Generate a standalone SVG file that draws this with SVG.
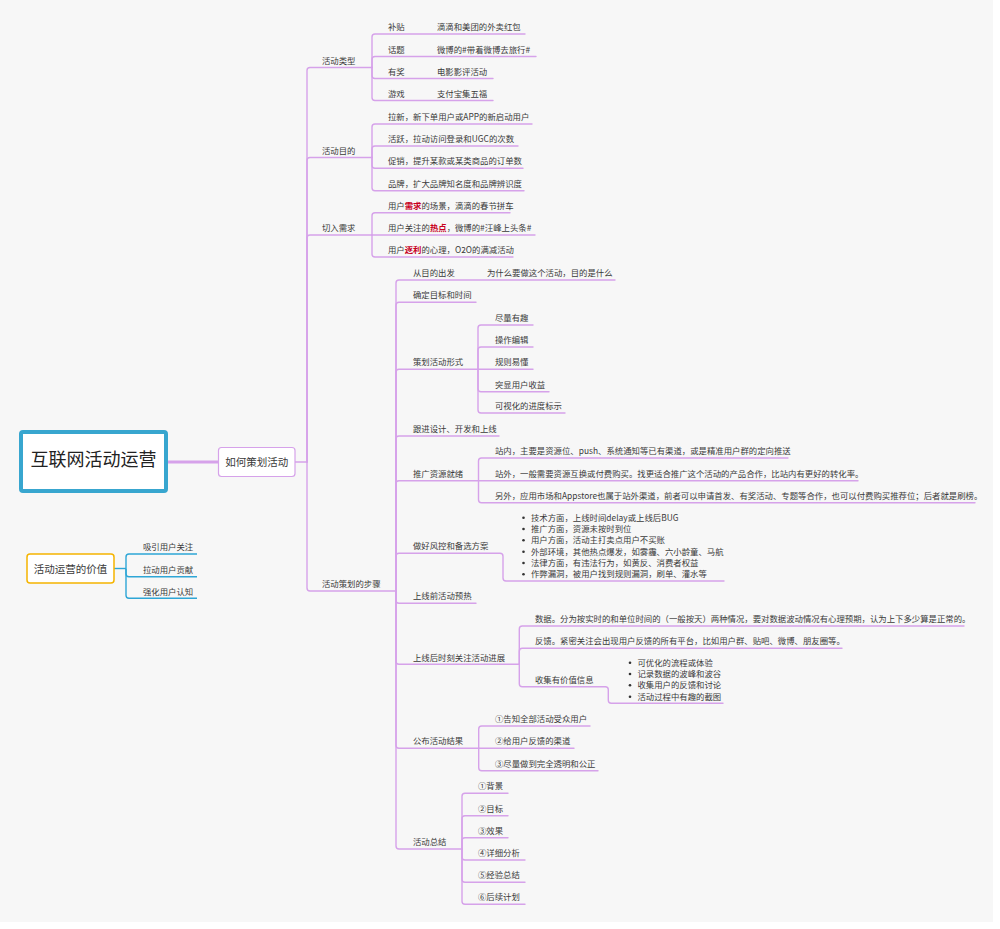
<svg xmlns="http://www.w3.org/2000/svg" width="1000" height="929" viewBox="0 0 1000 929">
<style>
.t{font-family:"Noto Sans CJK SC","Noto Sans",sans-serif;font-size:8.4px;fill:#3a3a3a}
.c{fill:none;stroke:#d6a2ea;stroke-width:1.4;stroke-linecap:round}
.cb{fill:none;stroke:#2ea6d6;stroke-width:1.4}
.hl{fill:#c8001e;font-weight:bold}
.b{fill:#333}
</style>
<rect x="0" y="0" width="1000" height="929" fill="#ffffff"/>
<rect x="0" y="0" width="993" height="922" fill="#f7f7f7"/>
<g id="connectors">
<path class="c" d="M167,462 H218" style="stroke-width:3"/>
<path class="c" d="M295,462 H307"/>
<path class="c" d="M307,462 V70.5 Q307,67.5 310,67.5 H372"/>
<path class="c" d="M307,462 V160.5 Q307,157.5 310,157.5 H372"/>
<path class="c" d="M307,462 V238 Q307,235 310,235 H372"/>
<path class="c" d="M307,462 V588 Q307,591 310,591 H396"/>
<path class="c" d="M372,67.5 V37 Q372,34 375,34 H525"/>
<path class="c" d="M372,67.5 V59.5 Q372,56.5 375,56.5 H536"/>
<path class="c" d="M372,67.5 V75.5 Q372,78.5 375,78.5 H493"/>
<path class="c" d="M372,67.5 V97.5 Q372,100.5 375,100.5 H493"/>
<path class="c" d="M372,157.5 V127 Q372,124 375,124 H532"/>
<path class="c" d="M372,157.5 V149 Q372,146 375,146 H518"/>
<path class="c" d="M372,157.5 V165.3 Q372,168.3 375,168.3 H523"/>
<path class="c" d="M372,157.5 V187.7 Q372,190.7 375,190.7 H524"/>
<path class="c" d="M372,235 V215.7 Q372,212.7 375,212.7 H510"/>
<path class="c" d="M372,235 H535"/>
<path class="c" d="M372,235 V254 Q372,257 375,257 H513"/>
<path class="c" d="M396,591 V283 Q396,280 399,280 H615"/>
<path class="c" d="M396,591 V305.3 Q396,302.3 399,302.3 H476"/>
<path class="c" d="M396,591 V372.3 Q396,369.3 399,369.3 H478"/>
<path class="c" d="M396,591 V439 Q396,436 399,436 H499"/>
<path class="c" d="M396,591 V483.7 Q396,480.7 399,480.7 H478.5"/>
<path class="c" d="M396,591 V556.3 Q396,553.3 399,553.3 H500 Q503,553.3 503,556.3 V578 Q503,581 506,581 H724"/>
<path class="c" d="M396,591 V600.3 Q396,603.3 399,603.3 H476"/>
<path class="c" d="M396,591 V661.3 Q396,664.3 399,664.3 H519.3"/>
<path class="c" d="M396,591 V745.3 Q396,748.3 399,748.3 H478.7"/>
<path class="c" d="M396,591 V846 Q396,849 399,849 H462"/>
<path class="c" d="M478,369.3 V328 Q478,325 481,325 H533"/>
<path class="c" d="M478,369.3 V350 Q478,347 481,347 H533"/>
<path class="c" d="M478,369.3 H533"/>
<path class="c" d="M478,369.3 V388.7 Q478,391.7 481,391.7 H549"/>
<path class="c" d="M478,369.3 V410 Q478,413 481,413 H565"/>
<path class="c" d="M478.5,480.7 V461 Q478.5,458 481.5,458 H788"/>
<path class="c" d="M478.5,480.7 H858"/>
<path class="c" d="M478.5,480.7 V499.7 Q478.5,502.7 481.5,502.7 H975"/>
<path class="c" d="M519.3,664.3 V629 Q519.3,626 522.3,626 H964"/>
<path class="c" d="M519.3,664.3 V651.3 Q519.3,648.3 522.3,648.3 H842"/>
<path class="c" d="M519.3,664.3 V683.7 Q519.3,686.7 522.3,686.7 H605.3 Q608.3,686.7 608.3,689.7 V700.3 Q608.3,703.3 611.3,703.3 H723"/>
<path class="c" d="M478.7,748.3 V729 Q478.7,726 481.7,726 H590"/>
<path class="c" d="M478.7,748.3 H574"/>
<path class="c" d="M478.7,748.3 V767.7 Q478.7,770.7 481.7,770.7 H598"/>
<path class="c" d="M462,849 V796.3 Q462,793.3 465,793.3 H508"/>
<path class="c" d="M462,849 V818.7 Q462,815.7 465,815.7 H508"/>
<path class="c" d="M462,849 V840.7 Q462,837.7 465,837.7 H508"/>
<path class="c" d="M462,849 V857 Q462,860 465,860 H525"/>
<path class="c" d="M462,849 V879.3 Q462,882.3 465,882.3 H525"/>
<path class="c" d="M462,849 V901.3 Q462,904.3 465,904.3 H525"/>
<path class="cb" d="M114,568.5 H126"/>
<path class="cb" d="M126,568.5 V557 Q126,554 129,554 H197"/>
<path class="cb" d="M126,568.5 V573.7 Q126,576.7 129,576.7 H197"/>
<path class="cb" d="M126,568.5 V595.3 Q126,598.3 129,598.3 H197"/>
</g>
<g id="root">
<rect x="21" y="432" width="145" height="59" rx="2" fill="#ffffff" stroke="#38a6cf" stroke-width="4"/>
<text class="t" x="93.5" y="466" text-anchor="middle" style="font-size:18px;fill:#222">互联网活动运营</text>
</g>
<g id="n-plan">
<rect x="218.5" y="447.5" width="76.5" height="29" rx="3" fill="#ffffff" stroke="#d6a2ea" stroke-width="1.2"/>
<text class="t" x="256.7" y="466" text-anchor="middle" style="font-size:10.5px">如何策划活动</text>
</g>
<g id="n-value">
<rect x="27" y="554" width="87" height="29" rx="3" fill="#ffffff" stroke="#f5b400" stroke-width="1.5"/>
<text class="t" x="70.5" y="572.5" text-anchor="middle" style="font-size:10.5px">活动运营的价值</text>
</g>
<g id="n-value-children">
<text class="t" x="143" y="550">吸引用户关注</text>
<text class="t" x="143" y="572.5">拉动用户贡献</text>
<text class="t" x="143" y="594.5">强化用户认知</text>
</g>
<g id="n-types">
<text class="t" x="322" y="63.5">活动类型</text>
<text class="t" x="388" y="30">补贴</text><text class="t" x="437" y="30">滴滴和美团的外卖红包</text>
<text class="t" x="388" y="52.5">话题</text><text class="t" x="437" y="52.5">微博的#带着微博去旅行#</text>
<text class="t" x="388" y="74.5">有奖</text><text class="t" x="437" y="74.5">电影影评活动</text>
<text class="t" x="388" y="96.5">游戏</text><text class="t" x="437" y="96.5">支付宝集五福</text>
</g>
<g id="n-goals">
<text class="t" x="322" y="153.5">活动目的</text>
<text class="t" x="388" y="120">拉新，新下单用户或APP的新启动用户</text>
<text class="t" x="388" y="142">活跃，拉动访问登录和UGC的次数</text>
<text class="t" x="388" y="164.3">促销，提升某款或某类商品的订单数</text>
<text class="t" x="388" y="186.7">品牌，扩大品牌知名度和品牌辨识度</text>
</g>
<g id="n-needs">
<text class="t" x="322" y="231">切入需求</text>
<text class="t" x="388" y="208.7">用户<tspan class="hl">需求</tspan>的场景，滴滴的春节拼车</text>
<text class="t" x="388" y="231">用户关注的<tspan class="hl">热点</tspan>，微博的#汪峰上头条#</text>
<text class="t" x="388" y="253">用户<tspan class="hl">逐利</tspan>的心理，O2O的满减活动</text>
</g>
<g id="n-steps">
<text class="t" x="322" y="587">活动策划的步骤</text>
</g>
<g id="n-s1"><text class="t" x="413" y="276">从目的出发</text><text class="t" x="487" y="276">为什么要做这个活动，目的是什么</text></g>
<g id="n-s2"><text class="t" x="413" y="298.3">确定目标和时间</text></g>
<g id="n-s3">
<text class="t" x="413" y="365.3">策划活动形式</text>
<text class="t" x="495" y="321">尽量有趣</text>
<text class="t" x="495" y="343">操作编辑</text>
<text class="t" x="495" y="365.3">规则易懂</text>
<text class="t" x="495" y="387.7">突显用户收益</text>
<text class="t" x="495" y="409">可视化的进度标示</text>
</g>
<g id="n-s4"><text class="t" x="413" y="432">跟进设计、开发和上线</text></g>
<g id="n-s5">
<text class="t" x="413" y="476.7">推广资源就绪</text>
<text class="t" x="495" y="454">站内，主要是资源位、push、系统通知等已有渠道，或是精准用户群的定向推送</text>
<text class="t" x="495" y="476.7">站外，一般需要资源互换或付费购买。找更适合推广这个活动的产品合作，比站内有更好的转化率。</text>
<text class="t" x="495" y="498.7">另外，应用市场和Appstore也属于站外渠道，前者可以申请首发、有奖活动、专题等合作，也可以付费购买推荐位；后者就是刷榜。</text>
</g>
<g id="n-s6">
<text class="t" x="413" y="549.3">做好风控和备选方案</text>
<circle class="b" cx="523.5" cy="517.7" r="1.3"/><text class="t" x="531" y="520.7">技术方面，上线时间delay或上线后BUG</text>
<circle class="b" cx="523.5" cy="529" r="1.3"/><text class="t" x="531" y="532">推广方面，资源未按时到位</text>
<circle class="b" cx="523.5" cy="540.3" r="1.3"/><text class="t" x="531" y="543.3">用户方面，活动主打卖点用户不买账</text>
<circle class="b" cx="523.5" cy="551.7" r="1.3"/><text class="t" x="531" y="554.7">外部环境，其他热点爆发，如雾霾、六小龄童、马航</text>
<circle class="b" cx="523.5" cy="563" r="1.3"/><text class="t" x="531" y="566">法律方面，有违法行为，如黄反、消费者权益</text>
<circle class="b" cx="523.5" cy="574.3" r="1.3"/><text class="t" x="531" y="577.3">作弊漏洞，被用户找到规则漏洞，刷单、灌水等</text>
</g>
<g id="n-s7"><text class="t" x="413" y="599.3">上线前活动预热</text></g>
<g id="n-s8">
<text class="t" x="413" y="661.3">上线后时刻关注活动进展</text>
<text class="t" x="535" y="622">数据。分为按实时的和单位时间的（一般按天）两种情况，要对数据波动情况有心理预期，认为上下多少算是正常的。</text>
<text class="t" x="535" y="644.3">反馈。紧密关注会出现用户反馈的所有平台，比如用户群、贴吧、微博、朋友圈等。</text>
<text class="t" x="535" y="683">收集有价值信息</text>
<circle class="b" cx="630" cy="662.7" r="1.3"/><text class="t" x="637.5" y="665.7">可优化的流程或体验</text>
<circle class="b" cx="630" cy="674" r="1.3"/><text class="t" x="637.5" y="677">记录数据的波峰和波谷</text>
<circle class="b" cx="630" cy="685.3" r="1.3"/><text class="t" x="637.5" y="688.3">收集用户的反馈和讨论</text>
<circle class="b" cx="630" cy="696.7" r="1.3"/><text class="t" x="637.5" y="699.7">活动过程中有趣的截图</text>
</g>
<g id="n-s9">
<text class="t" x="413" y="744.3">公布活动结果</text>
<text class="t" x="495" y="722">①告知全部活动受众用户</text>
<text class="t" x="495" y="744.3">②给用户反馈的渠道</text>
<text class="t" x="495" y="766.7">③尽量做到完全透明和公正</text>
</g>
<g id="n-s10">
<text class="t" x="413" y="845">活动总结</text>
<text class="t" x="478" y="789.3">①背景</text>
<text class="t" x="478" y="811.7">②目标</text>
<text class="t" x="478" y="833.7">③效果</text>
<text class="t" x="478" y="856">④详细分析</text>
<text class="t" x="478" y="878.3">⑤经验总结</text>
<text class="t" x="478" y="900.3">⑥后续计划</text>
</g>
</svg>
